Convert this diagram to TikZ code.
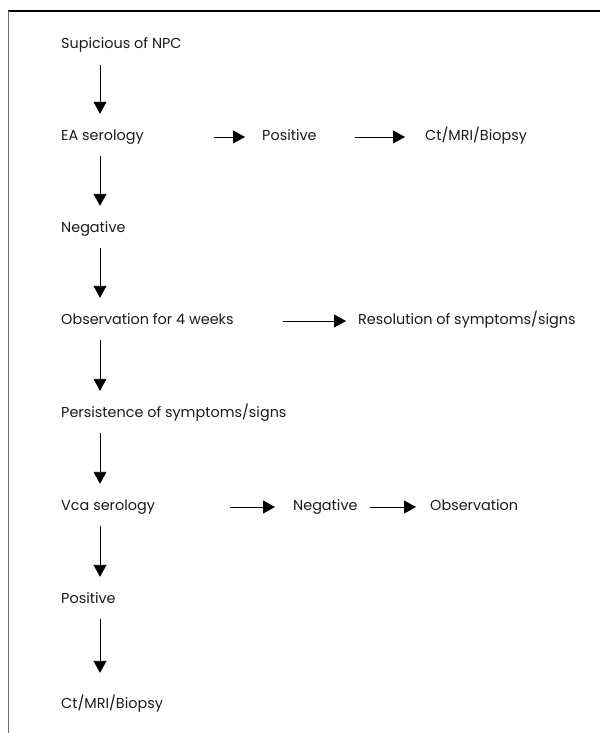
\documentclass[tikz,border=0pt]{standalone}
\usepackage{fontspec}
\setmainfont{Poppins}
\usetikzlibrary{arrows.meta,positioning}
\definecolor{marco}{HTML}{707070}
\definecolor{texto}{HTML}{1A1A1A}
\tikzset{
  paso/.style={anchor=west, inner sep=0pt, text height=9pt, text depth=3pt, texto},
  flecha/.style={-{Triangle[length=12pt,width=13pt]}, line width=0.9pt},
}
\begin{document}
\begin{tikzpicture}[x=1pt, y=-1pt, font=\fontsize{14.4}{16}\selectfont]
  \useasboundingbox (0,0) rectangle (603,733);
  % marco
  \draw[line width=1.1pt] (8,11) -- (600,11);
  \draw[marco, line width=1.3pt] (8.5,11) -- (8.5,733);
  \coordinate (eje) at (100,0);

  \node[paso] (sospecha) at (61,46) {Supicious of NPC};
  \node[paso] (ea) at (61,137) {EA serology};
  \node[paso] (pos1) at (262,137) {Positive};
  \node[paso] (ct1) at (425,137) {Ct/MRI/Biopsy};
  \node[paso] (neg1) at (61,229) {Negative};
  \node[paso] (obs4) at (61,321) {Observation for 4 weeks};
  \node[paso] (res) at (358,321) {Resolution of symptoms/signs};
  \node[paso] (pers) at (61,414) {Persistence of symptoms/signs};
  \node[paso] (vca) at (61,507) {Vca serology};
  \node[paso] (neg2) at (293,507) {Negative};
  \node[paso] (obs) at (430,507) {Observation};
  \node[paso] (pos2) at (61,600) {Positive};
  \node[paso] (ct2) at (61,705) {Ct/MRI/Biopsy};

  \foreach \a/\b in {sospecha/ea, ea/neg1, neg1/obs4, obs4/pers, pers/vca, vca/pos2}
    \draw[flecha, shorten <=13pt, shorten >=17pt] (\a.south -| eje) -- (\b.north -| eje);
  \draw[flecha, shorten <=13pt, shorten >=26pt] (pos2.south -| eje) -- (ct2.north -| eje);

  \draw[flecha, shorten <=70pt, shorten >=17pt] (ea) -- (pos1);
  \draw[flecha, shorten <=38pt, shorten >=20pt] (pos1) -- (ct1);
  \draw[flecha, shorten <=49pt, shorten >=12pt] (obs4) -- (res);
  \draw[flecha, shorten <=75pt, shorten >=18pt] (vca) -- (neg2);
  \draw[flecha, shorten <=12pt, shorten >=14pt] (neg2) -- (obs);
\end{tikzpicture}
\end{document}
